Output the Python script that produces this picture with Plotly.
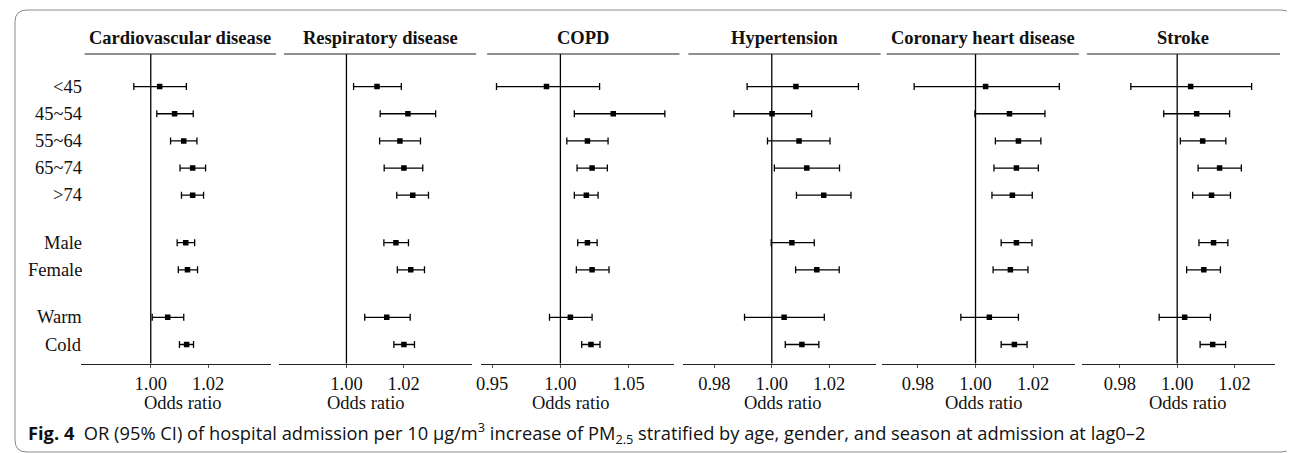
import plotly.graph_objects as go

W, H = 1295, 453

categories = ["<45", "45~54", "55~64", "65~74", ">74", "Male", "Female", "Warm", "Cold"]
group_sizes = [5, 2, 2]

diseases = ["Cardiovascular disease", "Respiratory disease", "COPD",
            "Hypertension", "Coronary heart disease", "Stroke"]

cvd_est = [1.0031, 1.0083, 1.0115, 1.0146, 1.0146, 1.0122, 1.0128, 1.0059, 1.0125]
cvd_lo  = [0.9941, 1.0021, 1.0069, 1.0102, 1.0107, 1.0092, 1.0096, 1.0005, 1.0100]
cvd_hi  = [1.0124, 1.0148, 1.0161, 1.0191, 1.0184, 1.0153, 1.0163, 1.0115, 1.0149]

resp_est = [1.0107, 1.0215, 1.0187, 1.0201, 1.0232, 1.0173, 1.0225, 1.0141, 1.0201]
resp_lo  = [1.0025, 1.0118, 1.0116, 1.0132, 1.0176, 1.0131, 1.0178, 1.0064, 1.0166]
resp_hi  = [1.0192, 1.0312, 1.0259, 1.0267, 1.0287, 1.0217, 1.0273, 1.0223, 1.0238]

copd_est = [0.9898, 1.0387, 1.0198, 1.0232, 1.0190, 1.0198, 1.0232, 1.0073, 1.0224]
copd_lo  = [0.9532, 1.0102, 1.0047, 1.0122, 1.0102, 1.0127, 1.0117, 0.9920, 1.0156]
copd_hi  = [1.0287, 1.0765, 1.0349, 1.0344, 1.0276, 1.0269, 1.0356, 1.0232, 1.0290]

hyp_est = [1.0084, 1.0001, 1.0095, 1.0122, 1.0181, 1.0070, 1.0157, 1.0043, 1.0105]
hyp_lo  = [0.9914, 0.9868, 0.9985, 1.0009, 1.0086, 0.9998, 1.0083, 0.9905, 1.0047]
hyp_hi  = [1.0302, 1.0139, 1.0203, 1.0236, 1.0276, 1.0148, 1.0235, 1.0183, 1.0164]

chd_est = [1.0035, 1.0118, 1.0149, 1.0142, 1.0128, 1.0142, 1.0121, 1.0048, 1.0135]
chd_lo  = [0.9787, 0.9998, 1.0069, 1.0064, 1.0057, 1.0089, 1.0061, 0.9949, 1.0089]
chd_hi  = [1.0291, 1.0241, 1.0227, 1.0218, 1.0197, 1.0196, 1.0182, 1.0149, 1.0179]

str_est = [1.0047, 1.0068, 1.0089, 1.0148, 1.0120, 1.0127, 1.0093, 1.0026, 1.0124]
str_lo  = [0.9838, 0.9953, 1.0011, 1.0073, 1.0054, 1.0076, 1.0033, 0.9937, 1.0080]
str_hi  = [1.0260, 1.0183, 1.0170, 1.0224, 1.0186, 1.0177, 1.0151, 1.0116, 1.0169]

estimates = [cvd_est, resp_est, copd_est, hyp_est, chd_est, str_est]
lows = [cvd_lo, resp_lo, copd_lo, hyp_lo, chd_lo, str_lo]
highs = [cvd_hi, resp_hi, copd_hi, hyp_hi, chd_hi, str_hi]

tick_sets = [[1.00, 1.02], [1.00, 1.02], [0.95, 1.00, 1.05],
             [0.98, 1.00, 1.02], [0.98, 1.00, 1.02], [0.98, 1.00, 1.02]]
x_ranges = [[0.9756, 1.0419], [0.9764, 1.0440], [0.9420, 1.0835],
            [0.9692, 1.0362], [0.9674, 1.0345], [0.9667, 1.0342]]

# layout geometry (pixels, as seen on screen)
axis_px = [(76, 267), (275, 469), (478, 672), (681, 874), (880, 1074), (1081, 1275)]
top_px = [(80, 272), (280, 473), (484, 677), (686, 879), (885, 1078), (1086, 1280)]
xtitle_px = [179, 362.5, 568, 781, 982.7, 1187.7]
Y_TOP, Y_BOT = 54, 363.5
OX, OY = 8, 8  # page offset compensation


def px(x):
    return (x - OX) / W


def py(y):
    return 1 - (y - OY) / H


def esc(s):
    return s.replace("<", "&lt;").replace(">", "&gt;")


# row positions with gaps between groups
gap = 0.75
ypos = []
pos = 0.0
for gi, n in enumerate(group_sizes):
    for i in range(n):
        ypos.append(pos)
        pos += 1
    pos += gap
y_range = [10.2, -1.2]

serif = "Liberation Serif"
FS = 18.5
fig = go.Figure()
layout = dict(
    width=W, height=H, margin=dict(l=0, r=0, t=0, b=0),
    paper_bgcolor="white", plot_bgcolor="white", showlegend=False,
)
shapes = []
annotations = []

for i, name in enumerate(diseases):
    k = "" if i == 0 else str(i + 1)
    xa, ya = "x" + k, "y" + k
    est, lo, hi = estimates[i], lows[i], highs[i]
    fig.add_trace(go.Scatter(
        x=est, y=ypos, xaxis=xa, yaxis=ya, mode="markers",
        marker=dict(symbol="square", size=5.5, color="black"),
        error_x=dict(type="data", symmetric=False,
                     array=[h - e for h, e in zip(hi, est)],
                     arrayminus=[e - l for e, l in zip(est, lo)],
                     color="black", thickness=1.3, width=3.5),
        hoverinfo="skip",
    ))
    layout["xaxis" + k] = dict(
        domain=[px(axis_px[i][0]), px(axis_px[i][1])], range=x_ranges[i],
        anchor=ya, tickvals=tick_sets[i], ticktext=["%.2f" % t for t in tick_sets[i]],
        showline=True, linecolor="#222", linewidth=1.2, ticks="outside", ticklen=3,
        tickcolor="#555", showgrid=False, zeroline=False,
        tickfont=dict(family=serif, size=FS, color="#111"),
    )
    layout["yaxis" + k] = dict(
        domain=[py(Y_BOT), py(Y_TOP)], range=y_range, anchor=xa,
        showticklabels=False, showgrid=False, zeroline=False, showline=False,
    )
    # reference line at OR = 1
    shapes.append(dict(type="line", xref=xa, yref="paper", x0=1, x1=1,
                       y0=py(Y_BOT), y1=py(Y_TOP), line=dict(color="black", width=1.3)))
    # title underline
    shapes.append(dict(type="line", xref="paper", yref="paper",
                       x0=px(top_px[i][0]), x1=px(top_px[i][1]), y0=py(Y_TOP), y1=py(Y_TOP),
                       line=dict(color="#222", width=1.2)))
    annotations.append(dict(text="<b>%s</b>" % name, xref="paper", yref="paper",
                            x=px((top_px[i][0] + top_px[i][1]) / 2), y=py(38),
                            xanchor="center", yanchor="middle", showarrow=False,
                            font=dict(family=serif, size=FS, color="#111")))
    annotations.append(dict(text="Odds ratio", xref="paper", yref="paper",
                            x=px(xtitle_px[i]), y=py(403), xanchor="center", yanchor="middle",
                            showarrow=False, font=dict(family=serif, size=FS, color="#111")))

# row labels
for cat, yv in zip(categories, ypos):
    annotations.append(dict(text=esc(cat), xref="paper", yref="y", x=px(79), y=yv,
                            xanchor="right", yanchor="middle", showarrow=False,
                            font=dict(family=serif, size=FS, color="#111")))

# caption
annotations.append(dict(
    text="<b>Fig. 4</b>  OR (95% CI) of hospital admission per 10 μg/m<sup>3</sup> increase of PM<sub>2.5</sub> "
         "stratified by age, gender, and season at admission at lag0–2",
    xref="paper", yref="paper", x=px(21), y=py(433), xanchor="left", yanchor="middle",
    showarrow=False, font=dict(family="Open Sans", size=18.3, color="#111")))

# rounded frame
x0, x1, y0, y1, r = px(10), px(1293), py(10), py(452), 12
rx, ry = r / W, r / H
path = (f"M {x0 + rx},{y0} L {x1 - rx},{y0} Q {x1},{y0} {x1},{y0 - ry} "
        f"L {x1},{y1 + ry} Q {x1},{y1} {x1 - rx},{y1} L {x0 + rx},{y1} "
        f"Q {x0},{y1} {x0},{y1 + ry} L {x0},{y0 - ry} Q {x0},{y0} {x0 + rx},{y0} Z")
shapes.append(dict(type="path", xref="paper", yref="paper", path=path,
                   line=dict(color="#8a8a8a", width=1)))

layout["shapes"] = shapes
layout["annotations"] = annotations
fig.update_layout(**layout)
fig.write_html("out.html")
